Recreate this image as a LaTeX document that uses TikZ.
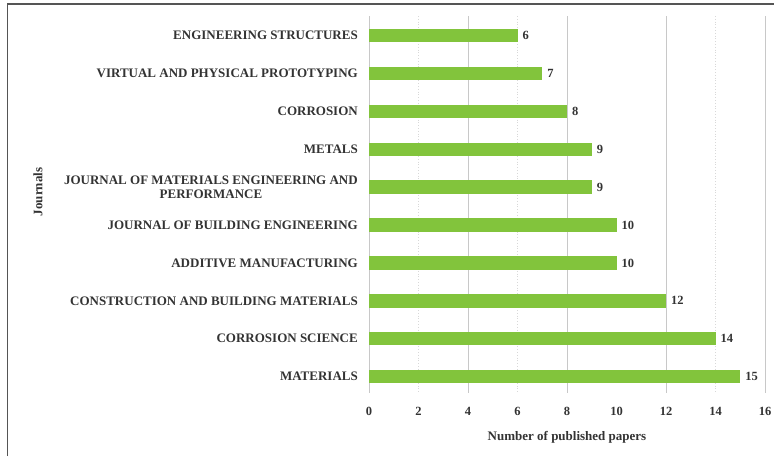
\documentclass[tikz,border=0pt]{standalone}
\usepackage{fontspec}
\setmainfont{Liberation Serif}
\definecolor{bargreen}{HTML}{82C43C}
\definecolor{txt}{HTML}{333333}
\definecolor{frame}{HTML}{555555}
\definecolor{gridsolid}{HTML}{C8C8C8}
\definecolor{griddot}{HTML}{D8D8D8}
\tikzset{
  catlabel/.style={anchor=east, font=\fontsize{13}{14}\selectfont\bfseries, text=txt, inner sep=0pt, align=center},
  vallabel/.style={anchor=west, font=\fontsize{12.5}{14}\selectfont\bfseries, text=txt, inner sep=0pt},
  ticklabel/.style={font=\fontsize{12.5}{14}\selectfont\bfseries, text=txt, inner sep=0pt},
  titlelabel/.style={font=\fontsize{13}{14}\selectfont\bfseries, text=txt, inner sep=0pt},
  bar/.style={fill=bargreen, draw=none},
  gmajor/.style={draw=gridsolid, line width=0.8pt},
  gminor/.style={draw=griddot, line width=0.8pt, dotted},
}
\begin{document}
\begin{tikzpicture}[x=1pt,y=-1pt]
\useasboundingbox (0,0) rectangle (774,456);
% frame
\draw[frame, line width=1.6pt] (7.5,456) -- (7.5,4) -- (774,4);
% gridlines
\foreach \v in {0,4,8,12,16} \draw[gmajor] ({369+24.75*\v},16) -- ({369+24.75*\v},393);
\foreach \v in {2,6,14} \draw[gminor] ({369+24.75*\v},16) -- ({369+24.75*\v},393);
% tick labels
\foreach \v in {0,2,...,16} \node[ticklabel] (t\v) at ({369+24.75*\v},411) {\v};
% bars
\foreach \i/\val/\name in {0/6/ENGINEERING STRUCTURES,
  1/7/VIRTUAL AND PHYSICAL PROTOTYPING,
  2/8/CORROSION,
  3/9/METALS,
  4/9/{JOURNAL OF MATERIALS ENGINEERING AND\\PERFORMANCE},
  5/10/JOURNAL OF BUILDING ENGINEERING,
  6/10/ADDITIVE MANUFACTURING,
  7/12/CONSTRUCTION AND BUILDING MATERIALS,
  8/14/CORROSION SCIENCE,
  9/15/MATERIALS} {
  \pgfmathsetmacro{\yc}{35.5+37.9*\i}
  \path[bar] (369,\yc-6.7) rectangle ({369+24.75*\val},\yc+6.7);
  \node[vallabel] (v\i) at ({369+24.75*\val+5},\yc) {\val};
  \node[catlabel] (c\i) at (358,\yc) {\name};
}
\node[titlelabel] (xt) at (567,437) {Number of published papers};
\node[titlelabel, rotate=90] (yt) at (38,192) {Journals};
\end{tikzpicture}
\end{document}
